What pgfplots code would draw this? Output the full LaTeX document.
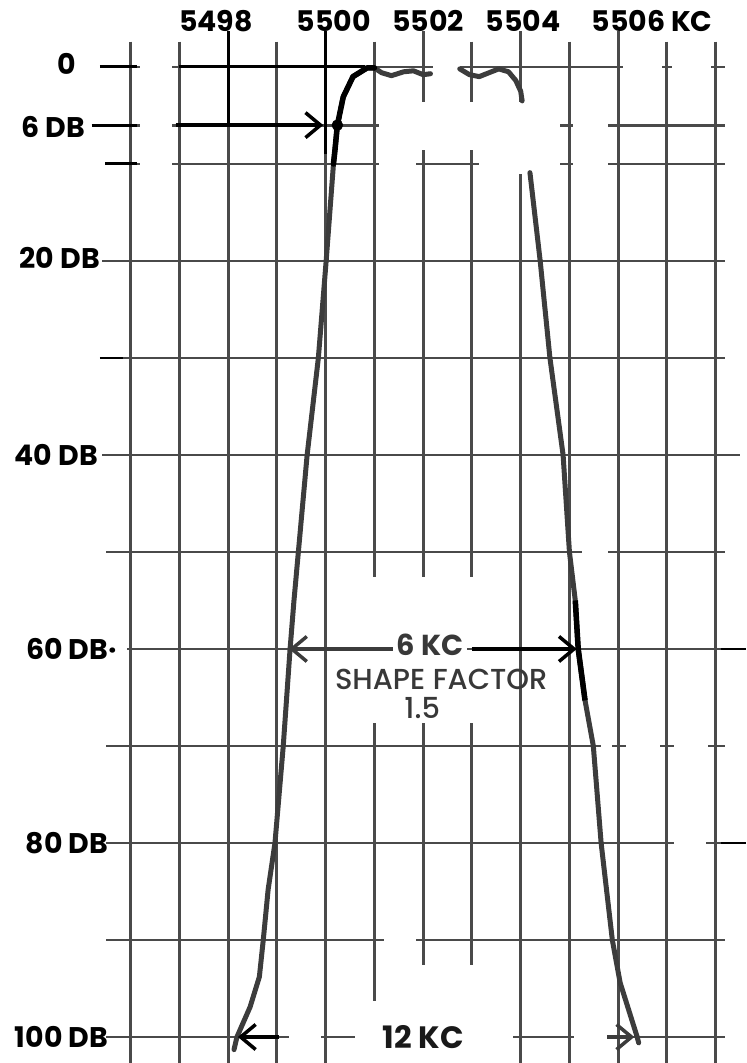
\documentclass[border=0pt]{standalone}
\usepackage{fontspec}
\setmainfont{Poppins}
\newfontfamily\medfont{Poppins Medium}
\usepackage{pgfplots}
\pgfplotsset{compat=1.18}
\usetikzlibrary{arrows.meta}
\definecolor{gridc}{HTML}{4A4A4A}
\definecolor{curvec}{HTML}{3C3C3C}
\begin{document}
\begin{tikzpicture}[
  lbl/.style={font=\fontsize{28.5}{30}\selectfont\bfseries, inner sep=0pt, text=black},
  note/.style={font=\fontsize{29}{30}\selectfont\medfont, inner sep=0pt, text=black!78},
  barb/.style={-{Straight Barb[length=15bp,width=25bp]}, line width=3.5bp},
  gl/.style={gridc, line width=2.8bp},
  bl/.style={black, line width=2.9bp},
]
\begin{axis}[
  scale only axis, width=619.1bp, height=1021.2bp,
  xmin=5495.5, xmax=5508.2, ymin=-2.6, ymax=102.68, y dir=reverse,
  xtick={5496,5497,...,5508},
  ytick={0,6,10,20,30,40,50,60,70,80,90,100},
  xticklabels={,,}, yticklabels={,,}, major tick length=0pt,
  axis line style={draw=none},
  grid=major, major grid style={line width=2.8bp, gridc},
  clip=false, unbounded coords=jump,
]
% picture frame
\coordinate (BL) at (axis cs:5493.32,102.68);
\coordinate (TR) at (axis cs:5508.63,-6.9);
% gaps of the faded grid
\fill[white] (axis cs:5496.2,-1.2) rectangle (axis cs:5496.85,11.5);
\fill[white] (axis cs:5501.1,3.6) rectangle (axis cs:5504.8,8.6);
\fill[white] (axis cs:5501.1,8.6) rectangle (axis cs:5501.85,11.0);
\fill[white] (axis cs:5503.15,8.6) rectangle (axis cs:5504.8,11.0);
\fill[white] (axis cs:5502.2,-3) rectangle (axis cs:5502.75,3.6);
\fill[white] (axis cs:5505.07,3.6) rectangle (axis cs:5505.8,11.5);
\fill[white] (axis cs:5506.1,-1) rectangle (axis cs:5506.9,1);
\fill[white] (axis cs:5507.1,-1) rectangle (axis cs:5507.9,1);
\fill[white] (axis cs:5505.25,48.8) rectangle (axis cs:5505.8,51.2);
\fill[white] (axis cs:5500.5,52.6) rectangle (axis cs:5503.5,67.6);
\draw[gl] (axis cs:5500.5,60) -- (axis cs:5503.5,60);
\fill[white] (axis cs:5501.6,92.6) rectangle (axis cs:5503.4,103);
\fill[white] (axis cs:5500.6,96.3) rectangle (axis cs:5501.6,103);
\fill[white] (axis cs:5499.25,99) rectangle (axis cs:5499.9,101);
\fill[white] (axis cs:5502.85,99) rectangle (axis cs:5503.85,101);
\fill[white] (axis cs:5505.1,99) rectangle (axis cs:5505.78,101);
\fill[white] (axis cs:5501.2,89) rectangle (axis cs:5501.85,91);
\fill[white] (axis cs:5505.65,69) rectangle (axis cs:5505.88,71);
\fill[white] (axis cs:5506.15,69) rectangle (axis cs:5506.85,71);
\fill[white] (axis cs:5507.15,69) rectangle (axis cs:5507.85,71);
\fill[white] (axis cs:5507.15,79) rectangle (axis cs:5507.8,81);
\fill[white] (axis cs:5495.45,59) rectangle (axis cs:5495.93,61);
% dashes and extensions
\draw[bl] (axis cs:5495.37,0) -- (axis cs:5496.13,0);
\draw[bl] (axis cs:5495.2,6) -- (axis cs:5496.13,6);
\draw[bl] (axis cs:5495.48,10) -- (axis cs:5496.13,10);
\draw[bl] (axis cs:5495.37,30) -- (axis cs:5495.85,30);
\draw[gl] (axis cs:5495.42,20) -- (axis cs:5495.6,20);
\draw[gl] (axis cs:5495.42,40) -- (axis cs:5495.6,40);
\draw[gl] (axis cs:5508.1,40) -- (axis cs:5508.5,40);
\draw[bl] (axis cs:5508.1,60) -- (axis cs:5508.63,60);
\draw[bl] (axis cs:5508.1,80) -- (axis cs:5508.63,80);
\draw[bl] (axis cs:5497,0) -- (axis cs:5500.8,0);
\draw[bl] (axis cs:5498,-3.7) -- (axis cs:5498,6);
\draw[bl] (axis cs:5500,-3.7) -- (axis cs:5500,9);
\draw[gl] (axis cs:5502,-3.7) -- (axis cs:5502,-2.6);
\draw[gl] (axis cs:5504,-3.7) -- (axis cs:5504,-2.6);
\draw[gl] (axis cs:5506,-3.7) -- (axis cs:5506,-2.6);
% response curve
\addplot[curvec, line width=5bp, line join=round, line cap=round] coordinates {
 (5498.12,101.3) (5498.18,100) (5498.45,96.9) (5498.64,93.8) (5498.72,90)
 (5498.82,84.8) (5498.96,80) (5499.13,70) (5499.27,60) (5499.35,55)
 (5499.62,40) (5499.85,30) (5500.01,20) (5500.16,10) (5500.19,8.6)
 (5500.24,6) (5500.36,3.1) (5500.56,1.0) (5500.85,0.1) (5501.0,0.1)
 (5501.15,0.6) (5501.35,0.9) (5501.6,0.5) (5501.8,0.4) (5502.0,0.8) (5502.15,0.7)
 (5502.4,nan)
 (5502.75,0.2) (5502.95,0.8) (5503.15,1.0) (5503.35,0.6) (5503.55,0.2)
 (5503.75,0.5) (5503.9,1.4) (5504.0,2.5) (5504.03,3.5)
 (5504.1,nan)
 (5504.19,10.9) (5504.4,20) (5504.6,30) (5504.87,40) (5505.0,50) (5505.12,55)
 (5505.18,60) (5505.32,65.3) (5505.49,70) (5505.65,80) (5505.88,90)
 (5506.04,94.4) (5506.39,100) (5506.42,100.6)
};
\addplot[black, line width=5.5bp, line join=round, line cap=round] coordinates {
 (5500.16,10) (5500.19,8.6) (5500.24,6) (5500.36,3.1) (5500.56,1.0) (5500.85,0.1) (5501.0,0.1)
};
\addplot[black, line width=5.5bp, line join=round] coordinates {
 (5505.12,55) (5505.18,60) (5505.32,65.3)
};
\addplot[only marks, mark=*, mark size=5.5bp, black] coordinates {(5500.24,6)};
% arrows
\draw[barb, black] (axis cs:5496.92,6) -- (axis cs:5499.95,6);
\draw[barb, curvec] (axis cs:5501.49,60) -- (axis cs:5499.25,60);
\draw[barb, black] (axis cs:5503.0,60) -- (axis cs:5505.15,60);
\draw[barb, black] (axis cs:5499.05,100) -- (axis cs:5498.2,100);
\draw[barb, curvec] (axis cs:5505.78,100) -- (axis cs:5506.33,100);
% texts
\node[lbl] at (axis cs:5497.75,-4.75) {5498};
\node[lbl] at (axis cs:5500.17,-4.75) {5500};
\node[lbl] at (axis cs:5502.1,-4.75) {5502};
\node[lbl] at (axis cs:5504.05,-4.75) {5504};
\node[lbl, anchor=west] at (axis cs:5505.45,-4.75) {5506 KC};
\node[lbl, anchor=east] at (axis cs:5494.88,-0.3) {0};
\node[lbl, anchor=east] at (axis cs:5495.07,6.2) {6 DB};
\node[lbl, anchor=east] at (axis cs:5495.37,19.7) {20 DB};
\node[lbl, anchor=east] at (axis cs:5495.33,40) {40 DB};
\node[lbl, anchor=east] at (axis cs:5495.72,60) {60 DB·};
\node[lbl, anchor=east] at (axis cs:5495.54,80) {80 DB};
\node[lbl, anchor=east] at (axis cs:5495.54,100) {100 DB};
\node[note, font=\fontsize{29}{30}\selectfont\bfseries, fill=white, inner xsep=4bp, inner ysep=3bp] at (axis cs:5502.14,59.6) {6 KC};
\node[note] at (axis cs:5502.37,63.1) {SHAPE FACTOR};
\node[note] at (axis cs:5501.98,66.1) {1.5};
\node[note, font=\fontsize{31}{32}\selectfont\bfseries, text=black!90, fill=white, inner xsep=4bp, inner ysep=3bp] at (axis cs:5502.0,100) {12 KC};
\end{axis}
\pgfresetboundingbox
\path[use as bounding box] (BL) rectangle (TR);
\end{tikzpicture}
\end{document}
